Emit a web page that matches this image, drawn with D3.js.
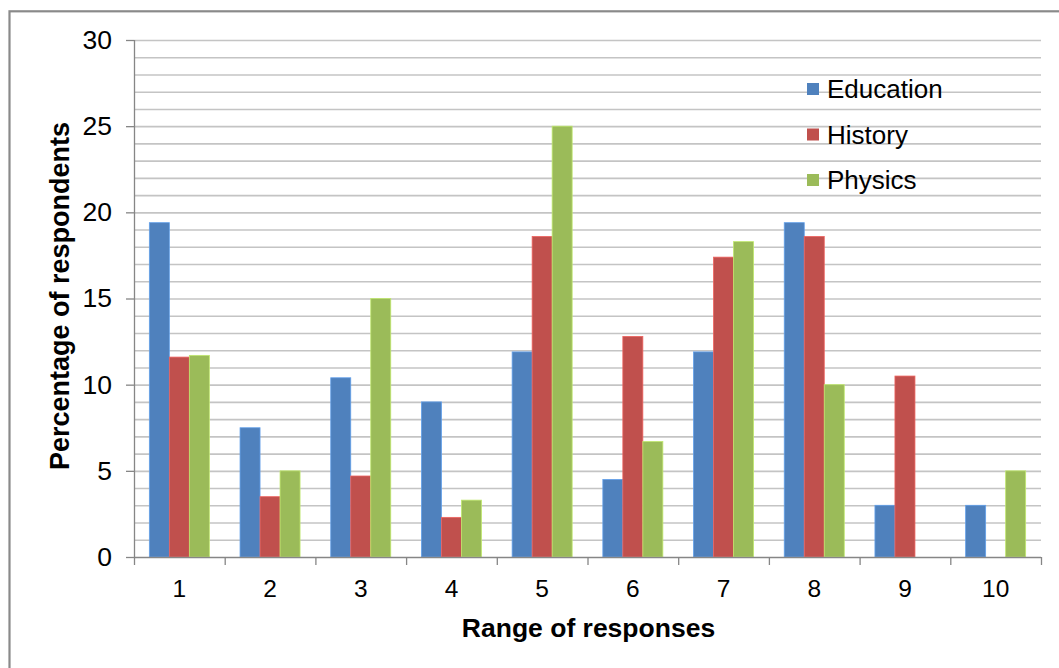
<!DOCTYPE html>
<html>
<head>
<meta charset="utf-8">
<script src="https://cdn.jsdelivr.net/npm/d3@7"></script>
<style>
  html, body { margin: 0; padding: 0; background: #ffffff; }
  svg { display: block; font-family: "Liberation Sans", Arial, sans-serif; }
</style>
</head>
<body>
<svg id="chart" width="1059" height="668"></svg>
<script>
// Response ranges on the x axis
const categories = ["1", "2", "3", "4", "5", "6", "7", "8", "9", "10"];

// Percentage of respondents per subject
const education = [19.4, 7.5, 10.4, 9.0, 11.9, 4.5, 11.9, 19.4, 3.0, 3.0];
const history   = [11.6, 3.5, 4.7, 2.3, 18.6, 12.8, 17.4, 18.6, 10.5, 0];
const physics   = [11.7, 5.0, 15.0, 3.3, 25.0, 6.7, 18.3, 10.0, 0, 5.0];

const seriesNames = ["Education", "History", "Physics"];
const seriesColors = ["#4F81BD", "#C0504D", "#9BBB59"];
const yTicks = [0, 5, 10, 15, 20, 25, 30];

const seriesValues = [education, history, physics];
const rows = categories.map((c, i) => ({
  category: c,
  values: seriesNames.map((s, k) => ({ series: s, value: seriesValues[k][i], color: seriesColors[k] }))
}));

const svg = d3.select("#chart");

// Outer chart frame
svg.append("rect")
  .attr("x", 9.5).attr("y", 11.3)
  .attr("width", 1200).attr("height", 800)
  .attr("fill", "none")
  .attr("stroke", "#8a8a8a")
  .attr("stroke-width", 2.2);

const plot = { left: 134, right: 1041, top: 40, bottom: 557 };

const x0 = d3.scaleBand()
  .domain(categories)
  .range([plot.left, plot.right])
  .padding(0);

const x1 = d3.scaleBand()
  .domain(seriesNames)
  .range([0, x0.bandwidth()])
  .paddingInner(0)
  .paddingOuter(0.767);

const y = d3.scaleLinear()
  .domain([0, 30])
  .range([plot.bottom, plot.top]);

// Horizontal gridlines at every unit
svg.append("g")
  .selectAll("line")
  .data(d3.range(1, 31))
  .join("line")
  .attr("x1", plot.left).attr("x2", plot.right)
  .attr("y1", d => y(d) + 0.5).attr("y2", d => y(d) + 0.5)
  .attr("stroke", "#c4c4c4")
  .attr("stroke-width", 1.6);

// Bars
svg.append("g")
  .selectAll("g")
  .data(rows)
  .join("g")
  .attr("transform", d => `translate(${x0(d.category)},0)`)
  .selectAll("rect")
  .data(d => d.values)
  .join("rect")
  .attr("x", d => x1(d.series))
  .attr("y", d => y(d.value))
  .attr("width", x1.bandwidth())
  .attr("height", d => y(0) - y(d.value))
  .attr("fill", d => d.color)
  .attr("stroke", d => d3.color(d.color).brighter(0.6))
  .attr("stroke-width", 0.8)
  .attr("display", d => d.value > 0 ? null : "none");

// Y axis
const yAxis = svg.append("g")
  .attr("transform", `translate(${plot.left},0)`)
  .call(d3.axisLeft(y).tickValues(yTicks).tickSize(8).tickPadding(14));
yAxis.select(".domain").attr("stroke", "#868686").attr("stroke-width", 1.3)
  .attr("d", `M0.5,${plot.top}V${plot.bottom}`);
yAxis.selectAll(".tick line").attr("stroke", "#868686").attr("stroke-width", 1.3);
yAxis.selectAll(".tick text")
  .attr("font-size", 26.5)
  .attr("font-family", "Liberation Sans, Arial, sans-serif")
  .attr("fill", "#000");

// X axis with ticks on band boundaries
const xAxis = svg.append("g")
  .attr("transform", `translate(0,${plot.bottom})`);
xAxis.append("line")
  .attr("x1", plot.left).attr("x2", plot.right)
  .attr("y1", 0.5).attr("y2", 0.5)
  .attr("stroke", "#868686").attr("stroke-width", 1.3);
const boundaries = categories.map(c => x0(c)).concat([plot.right]);
xAxis.selectAll("line.tick")
  .data(boundaries)
  .join("line")
  .attr("class", "tick")
  .attr("x1", d => d + 0.5).attr("x2", d => d + 0.5)
  .attr("y1", 0).attr("y2", 8)
  .attr("stroke", "#868686").attr("stroke-width", 1.3);
xAxis.selectAll("text")
  .data(categories)
  .join("text")
  .attr("x", d => x0(d) + x0.bandwidth() / 2)
  .attr("y", 40)
  .attr("text-anchor", "middle")
  .attr("font-size", 24.5)
  .attr("fill", "#000")
  .text(d => d);

// Axis titles
svg.append("text")
  .attr("x", (plot.left + plot.right) / 2 + 1)
  .attr("y", 637)
  .attr("text-anchor", "middle")
  .attr("font-size", 26.5)
  .attr("font-weight", "bold")
  .attr("fill", "#000")
  .text("Range of responses");

svg.append("text")
  .attr("transform", "translate(69,296) rotate(-90)")
  .attr("text-anchor", "middle")
  .attr("font-size", 27)
  .attr("font-weight", "bold")
  .attr("fill", "#000")
  .text("Percentage of respondents");

// Legend
const legend = svg.append("g")
  .attr("transform", "translate(807,83)");
const item = legend.selectAll("g")
  .data(seriesNames)
  .join("g")
  .attr("transform", (d, i) => `translate(0,${i * 45.5})`);
item.append("rect")
  .attr("width", 12).attr("height", 12)
  .attr("fill", (d, i) => seriesColors[i]);
item.append("text")
  .attr("x", 20)
  .attr("y", 15)
  .attr("font-size", 26)
  .attr("fill", "#000")
  .text(d => d);
</script>
</body>
</html>
